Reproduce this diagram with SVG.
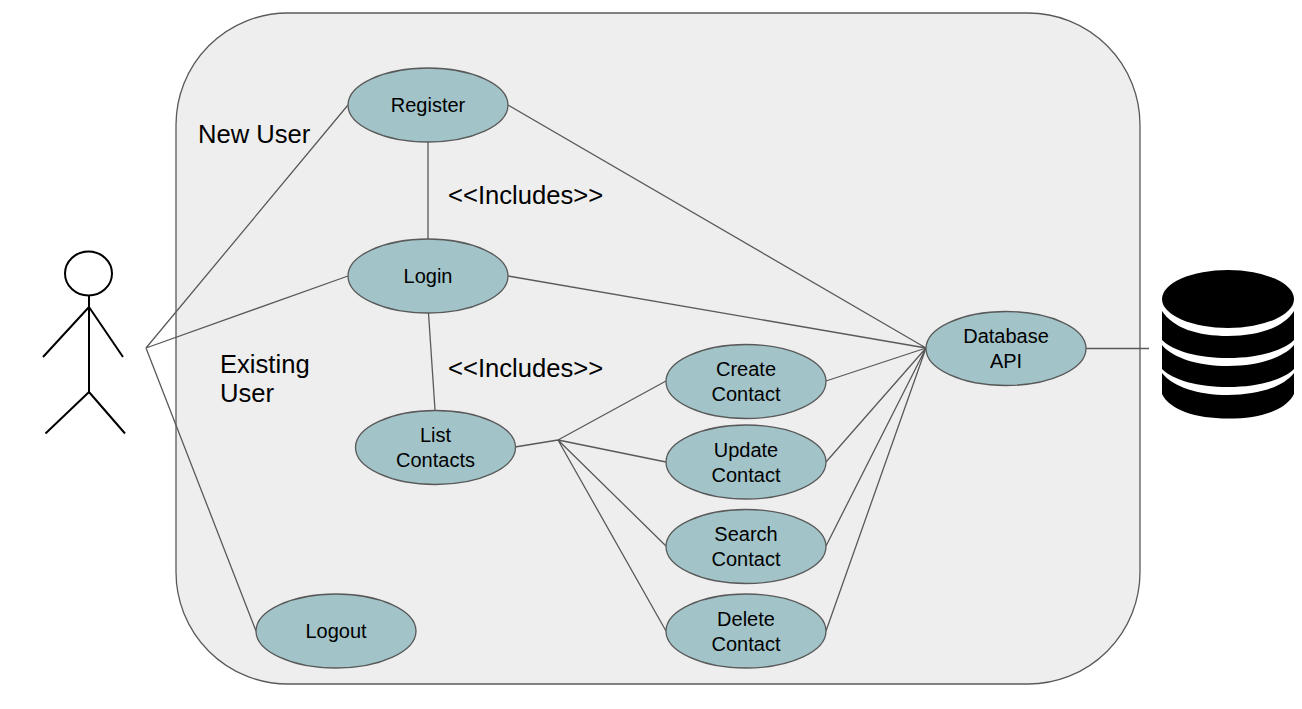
<svg xmlns="http://www.w3.org/2000/svg" width="1302" height="709" viewBox="0 0 1302 709">
<style>
.n ellipse{fill:#a2c4c9;stroke:#595959;stroke-width:1.3}
.n text{font-family:"Liberation Sans",Arial,sans-serif;font-size:20px;fill:#000;text-anchor:middle}
.l{font-family:"Liberation Sans",Arial,sans-serif;font-size:25.600px;fill:#000}
#connectors path{fill:none;stroke:#595959;stroke-width:1.3}
#actor *{fill:none;stroke:#000;stroke-width:2}
</style>
<rect width="1302" height="709" fill="#fff"/>
<g id="boundary"><rect x="176" y="13" width="964" height="671" rx="112" ry="112" fill="#eeeeee" stroke="#595959" stroke-width="1.3"/></g>
<g id="connectors">
<path d="M146 348L348 105M146 348L348 276M146 348L256 631"/>
<path d="M428 142V239M428.500 313L435 410"/>
<path d="M508 105L926 348M508 276L926 348"/>
<path d="M515 447L558 440M558 440L666 381M558 440L666 462M558 440L666 546M558 440L666 631"/>
<path d="M826 381L926 348M826 462L926 348M826 546L926 348M826 631L926 348"/>
<path d="M1086 348.500H1149"/>
</g>
<g id="actor">
<ellipse cx="88.500" cy="273.500" rx="23.500" ry="22"/>
<path d="M89 296V392M89 307L43 357M89 307L123 357M89 392L45.500 433.500M89 392L125 433.500"/>
</g>
<g id="register" class="n"><ellipse cx="428" cy="105" rx="80" ry="37"/><text x="428" y="112">Register</text></g>
<g id="login" class="n"><ellipse cx="428" cy="276" rx="80" ry="37"/><text x="428" y="283">Login</text></g>
<g id="list-contacts" class="n"><ellipse cx="435.500" cy="447.500" rx="80" ry="37"/><text x="435.500" y="442">List</text><text x="435.500" y="467">Contacts</text></g>
<g id="logout" class="n"><ellipse cx="336" cy="631" rx="80" ry="37"/><text x="336" y="638">Logout</text></g>
<g id="create-contact" class="n"><ellipse cx="746" cy="381.500" rx="80" ry="37"/><text x="746" y="376">Create</text><text x="746" y="401">Contact</text></g>
<g id="update-contact" class="n"><ellipse cx="746" cy="462" rx="80" ry="37"/><text x="746" y="457">Update</text><text x="746" y="481.500">Contact</text></g>
<g id="search-contact" class="n"><ellipse cx="746" cy="546.500" rx="80" ry="37"/><text x="746" y="541">Search</text><text x="746" y="566">Contact</text></g>
<g id="delete-contact" class="n"><ellipse cx="746" cy="631" rx="80" ry="37"/><text x="746" y="626">Delete</text><text x="746" y="650.500">Contact</text></g>
<g id="database-api" class="n"><ellipse cx="1006" cy="348.500" rx="80" ry="37"/><text x="1006" y="343">Database</text><text x="1006" y="368">API</text></g>
<g id="database-icon" fill="#000">
<ellipse cx="1228" cy="299" rx="66" ry="29"/>
<path d="M1162 311C1173 328 1198 336 1228 336C1258 336 1283 328 1294 311V340C1283 351 1258 358 1228 358C1198 358 1173 351 1162 340Z"/>
<path d="M1162 345C1173 358 1198 366 1228 366C1258 366 1283 358 1294 345V369C1283 380 1258 387 1228 387C1198 387 1173 380 1162 369Z"/>
<path d="M1162 373C1173 387 1198 395 1228 395C1258 395 1283 387 1294 373V394C1286 410 1261 418.500 1228 418.500C1195 418.500 1170 410 1162 394Z"/>
</g>
<g id="labels">
<text class="l" x="198" y="143">New User</text>
<text class="l" x="448" y="204">&lt;&lt;Includes&gt;&gt;</text>
<text class="l" x="448" y="377">&lt;&lt;Includes&gt;&gt;</text>
<text class="l" x="220" y="373">Existing</text>
<text class="l" x="220" y="402">User</text>
</g>
</svg>
